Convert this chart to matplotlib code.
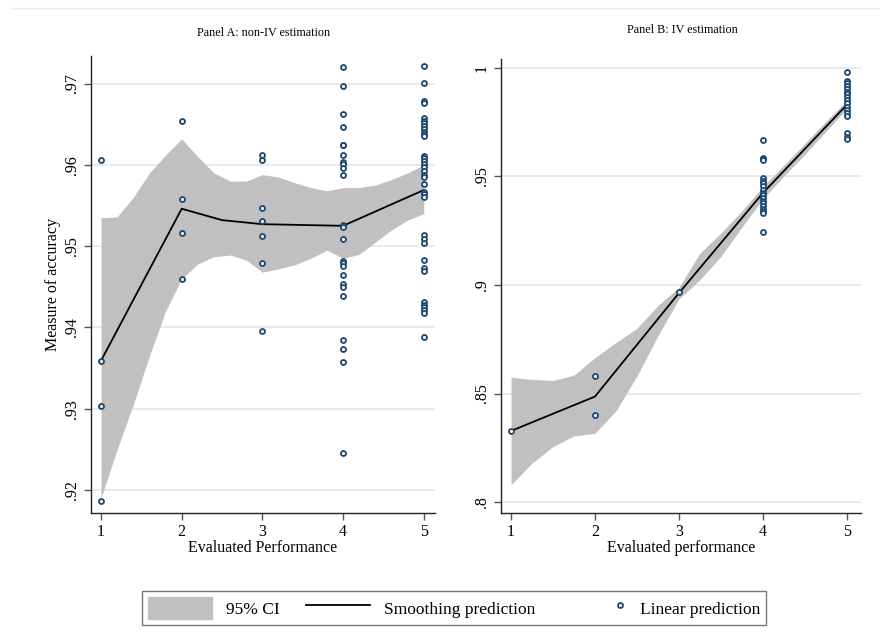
import numpy as np
import matplotlib
matplotlib.use('Agg')
import matplotlib.pyplot as plt
from matplotlib.patches import Patch
from matplotlib.lines import Line2D
from matplotlib.legend_handler import HandlerLine2D
from matplotlib.ticker import FuncFormatter

plt.rcParams['font.family'] = ['Liberation Serif', 'DejaVu Serif']

# Panel A: non-IV, linear predictions per evaluated performance level
a_x1 = [0.9606, 0.9359, 0.9303, 0.9186]
a_x2 = [0.9654, 0.9558, 0.9516, 0.9460]
a_x3 = [0.9612, 0.9606, 0.9547, 0.9531, 0.9513, 0.9479, 0.9396]
a_x4 = [0.9720, 0.9697, 0.9663, 0.9647, 0.9625, 0.9624, 0.9612, 0.9604,
        0.9601, 0.9596, 0.9588, 0.9526, 0.9524, 0.9509, 0.9482, 0.9479,
        0.9476, 0.9465, 0.9453, 0.9450, 0.9439, 0.9385, 0.9374, 0.9357,
        0.9245]
a_x5 = [0.9722, 0.9701, 0.9678, 0.9676, 0.9657, 0.9654, 0.9651, 0.9648,
        0.9644, 0.9641, 0.9638, 0.9635, 0.9611, 0.9608, 0.9605, 0.9601,
        0.9597, 0.9593, 0.9588, 0.9585, 0.9576, 0.9567, 0.9564, 0.9561,
        0.9514, 0.9509, 0.9504, 0.9483, 0.9473, 0.9469, 0.9431, 0.9428,
        0.9425, 0.9422, 0.9418, 0.9388]
a_pts = [a_x1, a_x2, a_x3, a_x4, a_x5]

a_smooth_x = [1, 2, 2.5, 3, 3.5, 4, 4.5, 5]
a_smooth_y = [0.9359, 0.9546, 0.9532, 0.9527, 0.9526, 0.9525, 0.9547, 0.9569]

a_ci_x = [1, 1.2, 1.4, 1.6, 1.8, 2, 2.2, 2.4, 2.6, 2.8, 3,
          3.2, 3.4, 3.6, 3.8, 4, 4.2, 4.4, 4.6, 4.8, 5]
a_ci_hi = [0.9535, 0.9536, 0.9560, 0.9590, 0.9612, 0.9632, 0.9610, 0.9590,
           0.9580, 0.9580, 0.9588, 0.9585, 0.9578, 0.9572, 0.9568, 0.9572,
           0.9572, 0.9575, 0.9582, 0.9590, 0.9600]
a_ci_lo = [0.9190, 0.9250, 0.9305, 0.9365, 0.9420, 0.9460, 0.9478, 0.9487,
           0.9489, 0.9483, 0.9468, 0.9472, 0.9477, 0.9485, 0.9495, 0.9485,
           0.9490, 0.9505, 0.9520, 0.9532, 0.9540]

# Panel B: IV estimation
b_x1 = [0.8328]
b_x2 = [0.8580, 0.8403]
b_x3 = [0.8965]
b_x4 = [0.9666, 0.9583, 0.9579, 0.9575, 0.9491, 0.9480, 0.9468, 0.9457,
        0.9437, 0.9425, 0.9413, 0.9400, 0.9388, 0.9376, 0.9363, 0.9351,
        0.9339, 0.9330, 0.9245]
b_x5 = [0.9980, 0.9940, 0.9928, 0.9915, 0.9903, 0.9889, 0.9877, 0.9866,
        0.9851, 0.9836, 0.9817, 0.9805, 0.9790, 0.9777, 0.9698, 0.9682,
        0.9672]
b_pts = [b_x1, b_x2, b_x3, b_x4, b_x5]

b_smooth_x = [1, 2, 3, 4, 5]
b_smooth_y = [0.8328, 0.8486, 0.8962, 0.9422, 0.9828]

b_ci_x = [1, 1.25, 1.5, 1.75, 2, 2.25, 2.5, 2.75, 3, 3.25, 3.5, 3.75,
          4, 4.25, 4.5, 4.75, 5]
b_ci_hi = [0.8575, 0.8565, 0.8560, 0.8585, 0.8665, 0.8735, 0.8800, 0.8905,
           0.8988, 0.9146, 0.9238, 0.9340, 0.9452, 0.9550, 0.9650, 0.9752,
           0.9848]
b_ci_lo = [0.8080, 0.8180, 0.8256, 0.8305, 0.8317, 0.8420, 0.8580, 0.8765,
           0.8935, 0.9023, 0.9130, 0.9265, 0.9395, 0.9500, 0.9600, 0.9705,
           0.9810]

NAVY = '#1a476f'
BAND = '#c0c0c0'
GRID = '#e6e6e6'


def strip0(v, pos):
    s = f"{v:g}"
    return s[1:] if s.startswith('0.') else s


class MarkerAtEnd(HandlerLine2D):
    # put the single marker at the right end of the handle, next to the text
    def get_xdata(self, legend, xdescent, ydescent, width, height, fontsize):
        x = width - xdescent - 4
        return np.array([x - 1, x + 1]), np.array([x])


def panel(ax, pts, cx, chi, clo, sx, sy, yt, ylim):
    ax.fill_between(cx, clo, chi, color=BAND, lw=0, zorder=1)
    ax.plot(sx, sy, color='black', lw=1.3, zorder=2)
    for i, vals in enumerate(pts, 1):
        ax.plot([i] * len(vals), vals, 'o', ms=3.6, mfc='white', mec=NAVY,
                mew=1.3, zorder=3, clip_on=False)
    ax.set_xlim(0.876, 5.14)
    ax.set_ylim(*ylim)
    ax.set_xticks([1, 2, 3, 4, 5])
    ax.set_yticks(yt)
    ax.yaxis.set_major_formatter(FuncFormatter(strip0))
    ax.grid(axis='y', color=GRID, lw=1.2, zorder=0)
    ax.set_axisbelow(True)
    for s in ['top', 'right']:
        ax.spines[s].set_visible(False)
    for s in ['left', 'bottom']:
        ax.spines[s].set_color('#222222')
        ax.spines[s].set_linewidth(1.0)
    ax.tick_params(axis='both', length=5, width=1, color='#555555',
                   labelsize=11.5, pad=3)
    for lab in ax.get_yticklabels():
        lab.set_rotation(90)
        lab.set_va('center')


fig = plt.figure(figsize=(8.8, 6.4), dpi=100)
fig.patch.set_facecolor('white')

axA = fig.add_axes([0.1034, 0.1984, 0.391, 0.714])
panel(axA, a_pts, a_ci_x, a_ci_hi, a_ci_lo, a_smooth_x, a_smooth_y,
      [0.92, 0.93, 0.94, 0.95, 0.96, 0.97], (0.91717, 0.97338))
axA.set_ylabel("Measure of accuracy", fontsize=11.5, labelpad=2)
axA.set_xlabel("Evaluated Performance", fontsize=11.5, labelpad=0)
fig.text(0.299, 0.948, "Panel A: non-IV estimation", fontsize=8.7,
         ha='center', va='center')

axB = fig.add_axes([0.569, 0.198, 0.409, 0.710])
panel(axB, b_pts, b_ci_x, b_ci_hi, b_ci_lo, b_smooth_x, b_smooth_y,
      [0.8, 0.85, 0.9, 0.95, 1.0], (0.7949, 1.004))
axB.set_xlim(0.877, 5.167)
axB.set_xlabel("Evaluated performance", fontsize=11.5, labelpad=0)
fig.text(0.775, 0.953, "Panel B: IV estimation", fontsize=8.7,
         ha='center', va='center')

# faint frame line at the top
fig.add_artist(Line2D([0.0125, 1.0], [0.9875, 0.9875], color='#ececec',
                      lw=1, transform=fig.transFigure))

h_ci = Patch(facecolor=BAND, edgecolor=BAND)
h_sm = Line2D([], [], color='black', lw=1.3)
h_lin = Line2D([], [], ls='none', marker='o', ms=3.6, mfc='white',
               mec=NAVY, mew=1.3)
labels = ["95% CI", "Smoothing prediction", "Linear prediction"]
leg = fig.legend([h_ci, h_sm, h_lin], labels, loc='center',
                 bbox_to_anchor=(0.516, 0.05), ncol=3, fontsize=12.5,
                 frameon=True, fancybox=False, edgecolor='#555555',
                 handlelength=3.7, handleheight=1.6, columnspacing=1.5,
                 handletextpad=0.8, borderpad=0.35, numpoints=1,
                 handler_map={h_lin: MarkerAtEnd(numpoints=1)})
leg.get_frame().set_linewidth(1.0)

plt.savefig("out.png", dpi=100, facecolor='white')
plt.close()
